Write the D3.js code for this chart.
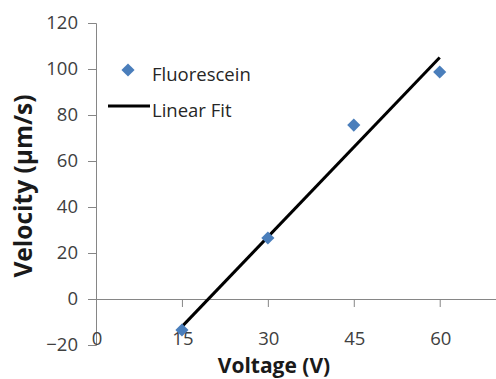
<!DOCTYPE html>
<html>
<head>
<meta charset="utf-8">
<script src="https://cdn.jsdelivr.net/npm/d3@7"></script>
<style>
  body { margin: 0; background: #fff; }
  text { font-family: "Open Sans", sans-serif; }
</style>
</head>
<body>
<div id="chart"></div>
<script>
// Data
const voltage = [15, 30, 45, 60];
const velocity = [-13.5, 26.5, 75.6, 98.7];
const fitVoltage = [15, 60];
const fitVelocity = [-12, 105];
const xTicks = [0, 15, 30, 45, 60];
const yTicks = [-20, 0, 20, 40, 60, 80, 100, 120];

let width = 496;
let height = 379;

let svg = d3.select("#chart").append("svg")
    .attr("width", width)
    .attr("height", height);

// Scales
const xScale = d3.scaleLinear()
    .domain([0, 70])
    .range([96, 497]);

const yScale = d3.scaleLinear()
    .domain([-20, 120])
    .range([345, 23]);

// Y axis
const yAxis = svg.append("g")
    .attr("transform", `translate(${xScale(0)}, 0)`)
    .call(d3.axisLeft(yScale).tickValues(yTicks).tickSize(8).tickPadding(10).tickFormat(d3.format("d")));
yAxis.select(".domain").attr("stroke", "#868686");
yAxis.selectAll(".tick line").attr("stroke", "#868686");
yAxis.selectAll(".tick text")
    .attr("fill", "#404040")
    .style("font-size", "18.5px");

// X axis drawn at y = 0, labels at the bottom
const xAxis = svg.append("g")
    .attr("transform", `translate(0, ${yScale(0)})`)
    .call(d3.axisBottom(xScale).tickValues(xTicks).tickSize(8).tickSizeOuter(0).tickFormat(""));
xAxis.select(".domain").attr("stroke", "#868686");
xAxis.selectAll(".tick line").attr("stroke", "#868686");
xAxis.selectAll(".tick").filter(d => d === 0).select("line").remove();

svg.append("g").selectAll("text")
    .data(xTicks)
    .enter().append("text")
    .attr("x", d => xScale(d) + 1)
    .attr("y", 345)
    .attr("text-anchor", "middle")
    .attr("fill", "#404040")
    .style("font-size", "18.5px")
    .text(d => d);

// Axis titles
svg.append("text")
    .attr("x", 274)
    .attr("y", 373)
    .attr("text-anchor", "middle")
    .style("font-size", "21px")
    .style("font-weight", "bold")
    .attr("fill", "#1a1a1a")
    .text("Voltage (V)");

svg.append("text")
    .attr("transform", "translate(32, 186) rotate(-90)")
    .attr("text-anchor", "middle")
    .style("font-size", "24.5px")
    .style("font-weight", "bold")
    .attr("fill", "#1a1a1a")
    .text("Velocity (µm/s)");

// Linear fit line
const line = d3.line()
    .x(d => xScale(d[0]))
    .y(d => yScale(d[1]));

svg.append("path")
    .datum(fitVoltage.map((v, i) => [v, fitVelocity[i]]))
    .attr("d", line)
    .attr("fill", "none")
    .attr("stroke", "#000")
    .attr("stroke-width", 3);

// Data points
const diamond = d3.symbol().type(d3.symbolDiamond2).size(110);
svg.append("g").selectAll("path")
    .data(voltage)
    .enter().append("path")
    .attr("d", diamond)
    .attr("transform", (d, i) => `translate(${xScale(d)}, ${yScale(velocity[i])})`)
    .attr("fill", "#4a7ebb");

// Legend
const legend = svg.append("g");
legend.append("path")
    .attr("d", diamond)
    .attr("transform", "translate(128, 70)")
    .attr("fill", "#4a7ebb");
legend.append("text")
    .attr("x", 152)
    .attr("y", 81)
    .style("font-size", "18.5px")
    .attr("fill", "#262626")
    .text("Fluorescein");
legend.append("line")
    .attr("x1", 108)
    .attr("x2", 150)
    .attr("y1", 106)
    .attr("y2", 106)
    .attr("stroke", "#000")
    .attr("stroke-width", 3);
legend.append("text")
    .attr("x", 152)
    .attr("y", 117)
    .style("font-size", "18.5px")
    .attr("fill", "#262626")
    .text("Linear Fit");
</script>
</body>
</html>
